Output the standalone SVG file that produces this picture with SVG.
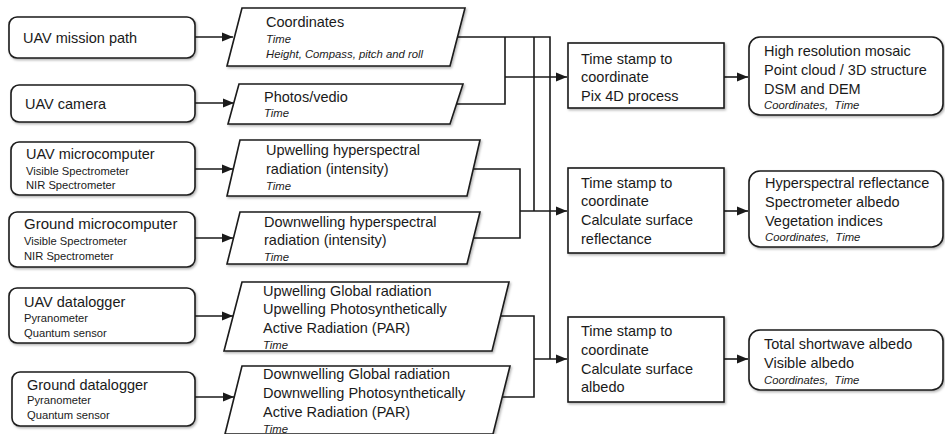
<svg xmlns="http://www.w3.org/2000/svg" width="945" height="434" viewBox="0 0 945 434">
<style>
  .box{fill:#fff;stroke:#1a1a1a;stroke-width:1.6}
  .t{font-family:"Liberation Sans",Arial,sans-serif;font-size:14.5px;fill:#1a1a1a}
  .s{font-family:"Liberation Sans",Arial,sans-serif;font-size:11.2px;fill:#1a1a1a}
  .i{font-family:"Liberation Sans",Arial,sans-serif;font-size:11.3px;font-style:italic;fill:#1a1a1a}
  .c{fill:none;stroke:#1a1a1a;stroke-width:1.6}
</style>
<defs>
  <marker id="ah" markerUnits="userSpaceOnUse" markerWidth="12" markerHeight="10" refX="11" refY="5" orient="auto">
    <path d="M0,0.5 L11,5 L0,9.5 Z" fill="#1a1a1a"/>
  </marker>
  <filter id="sh" x="-5%" y="-5%" width="115%" height="125%">
    <feDropShadow dx="1.2" dy="1.5" stdDeviation="0.8" flood-color="#000" flood-opacity="0.3"/>
  </filter>
</defs>
<rect width="945" height="434" fill="#fff"/>

<g id="connectors">
  <path class="c" d="M195,37 H233" marker-end="url(#ah)"/>
  <path class="c" d="M195,103 H234" marker-end="url(#ah)"/>
  <path class="c" d="M195,169 H233" marker-end="url(#ah)"/>
  <path class="c" d="M195,238 H233" marker-end="url(#ah)"/>
  <path class="c" d="M195,316 H233" marker-end="url(#ah)"/>
  <path class="c" d="M195,397 H234" marker-end="url(#ah)"/>
  <path class="c" d="M458,37 H550 V359"/>
  <path class="c" d="M534,37 V211"/>
  <path class="c" d="M505,37 V104 H456"/>
  <path class="c" d="M505,77 H567" marker-end="url(#ah)"/>
  <path class="c" d="M473,169 H520 V238 H473"/>
  <path class="c" d="M520,211 H567" marker-end="url(#ah)"/>
  <path class="c" d="M501,316 H534 V397 H502"/>
  <path class="c" d="M534,359 H567" marker-end="url(#ah)"/>
  <path class="c" d="M724,77 H748" marker-end="url(#ah)"/>
  <path class="c" d="M724,211 H748" marker-end="url(#ah)"/>
  <path class="c" d="M724,359 H748" marker-end="url(#ah)"/>
</g>

<g id="uav-mission-path">
  <rect class="box" x="9" y="17" width="186" height="41" rx="8" filter="url(#sh)"/>
  <text class="t" x="23" y="43">UAV mission path</text>
</g>
<g id="uav-camera">
  <rect class="box" x="11" y="85" width="184" height="37" rx="8" filter="url(#sh)"/>
  <text class="t" x="25" y="109">UAV camera</text>
</g>
<g id="uav-microcomputer">
  <rect class="box" x="11" y="142" width="184" height="53" rx="8" filter="url(#sh)"/>
  <text class="t" x="26" y="159">UAV microcomputer</text>
  <text class="s" x="26" y="175">Visible Spectrometer</text>
  <text class="s" x="26" y="189">NIR Spectrometer</text>
</g>
<g id="ground-microcomputer">
  <rect class="box" x="9" y="212" width="186" height="55" rx="8" filter="url(#sh)"/>
  <text class="t" x="24" y="229" style="font-size:15px">Ground microcomputer</text>
  <text class="s" x="24" y="245">Visible Spectrometer</text>
  <text class="s" x="24" y="260">NIR Spectrometer</text>
</g>
<g id="uav-datalogger">
  <rect class="box" x="9" y="288" width="186" height="55" rx="8" filter="url(#sh)"/>
  <text class="t" x="24" y="307">UAV datalogger</text>
  <text class="s" x="24" y="322">Pyranometer</text>
  <text class="s" x="24" y="337">Quantum sensor</text>
</g>
<g id="ground-datalogger">
  <rect class="box" x="12" y="372" width="183" height="54" rx="8" filter="url(#sh)"/>
  <text class="t" x="27" y="390">Ground datalogger</text>
  <text class="s" x="27" y="404">Pyranometer</text>
  <text class="s" x="27" y="419">Quantum sensor</text>
</g>

<g id="coordinates">
  <polygon class="box" points="242,8 465,8 450,66 227,66" filter="url(#sh)"/>
  <text class="t" x="266" y="27">Coordinates</text>
  <text class="i" x="266" y="43">Time</text>
  <text class="i" x="266" y="58">Height, Compass, pitch and roll</text>
</g>
<g id="photos-vedio">
  <polygon class="box" points="239,84 463,84 450,124 228,124" filter="url(#sh)"/>
  <text class="t" x="264" y="102">Photos/vedio</text>
  <text class="i" x="264" y="117">Time</text>
</g>
<g id="upwelling-hyperspectral">
  <polygon class="box" points="240,140 480,140 467,196 227,196" filter="url(#sh)"/>
  <text class="t" x="266" y="155">Upwelling hyperspectral</text>
  <text class="t" x="266" y="174">radiation (intensity)</text>
  <text class="i" x="266" y="190">Time</text>
</g>
<g id="downwelling-hyperspectral">
  <polygon class="box" points="240,212 480,212 467,264 227,264" filter="url(#sh)"/>
  <text class="t" x="264" y="227">Downwelling hyperspectral</text>
  <text class="t" x="264" y="245">radiation (intensity)</text>
  <text class="i" x="264" y="261">Time</text>
</g>
<g id="upwelling-global">
  <polygon class="box" points="242,282 509,282 492,351 224,351" filter="url(#sh)"/>
  <text class="t" x="263" y="296">Upwelling Global radiation</text>
  <text class="t" x="263" y="314">Upwelling Photosynthetically</text>
  <text class="t" x="263" y="333">Active Radiation (PAR)</text>
  <text class="i" x="263" y="349">Time</text>
</g>
<g id="downwelling-global">
  <polygon class="box" points="242,366 510,366 493,434 225,434" filter="url(#sh)"/>
  <text class="t" x="263" y="379">Downwelling Global radiation</text>
  <text class="t" x="263" y="398">Downwelling Photosynthetically</text>
  <text class="t" x="263" y="417">Active Radiation (PAR)</text>
  <text class="i" x="263" y="433">Time</text>
</g>

<g id="process-pix4d">
  <rect class="box" x="568" y="43" width="156" height="65" filter="url(#sh)"/>
  <text class="t" x="581" y="64">Time stamp to</text>
  <text class="t" x="581" y="82">coordinate</text>
  <text class="t" x="581" y="101">Pix 4D process</text>
</g>
<g id="process-reflectance">
  <rect class="box" x="568" y="168" width="156" height="85" filter="url(#sh)"/>
  <text class="t" x="581" y="188">Time stamp to</text>
  <text class="t" x="581" y="206">coordinate</text>
  <text class="t" x="581" y="225">Calculate surface</text>
  <text class="t" x="581" y="244">reflectance</text>
</g>
<g id="process-albedo">
  <rect class="box" x="568" y="317" width="156" height="85" filter="url(#sh)"/>
  <text class="t" x="581" y="336">Time stamp to</text>
  <text class="t" x="581" y="355">coordinate</text>
  <text class="t" x="581" y="374">Calculate surface</text>
  <text class="t" x="581" y="392">albedo</text>
</g>

<g id="output-mosaic">
  <rect class="box" x="749" y="37" width="194" height="78" rx="11" filter="url(#sh)"/>
  <text class="t" x="764" y="56">High resolution mosaic</text>
  <text class="t" x="764" y="75">Point cloud / 3D structure</text>
  <text class="t" x="764" y="94">DSM and DEM</text>
  <text class="i" x="764" y="109">Coordinates,&#160; Time</text>
</g>
<g id="output-reflectance">
  <rect class="box" x="749" y="171" width="194" height="76" rx="11" filter="url(#sh)"/>
  <text class="t" x="765" y="188">Hyperspectral reflectance</text>
  <text class="t" x="765" y="207">Spectrometer albedo</text>
  <text class="t" x="765" y="226">Vegetation indices</text>
  <text class="i" x="765" y="241">Coordinates,&#160; Time</text>
</g>
<g id="output-albedo">
  <rect class="box" x="749" y="330" width="194" height="60" rx="11" filter="url(#sh)"/>
  <text class="t" x="764" y="349">Total shortwave albedo</text>
  <text class="t" x="764" y="368">Visible albedo</text>
  <text class="i" x="764" y="384">Coordinates,&#160; Time</text>
</g>
</svg>
